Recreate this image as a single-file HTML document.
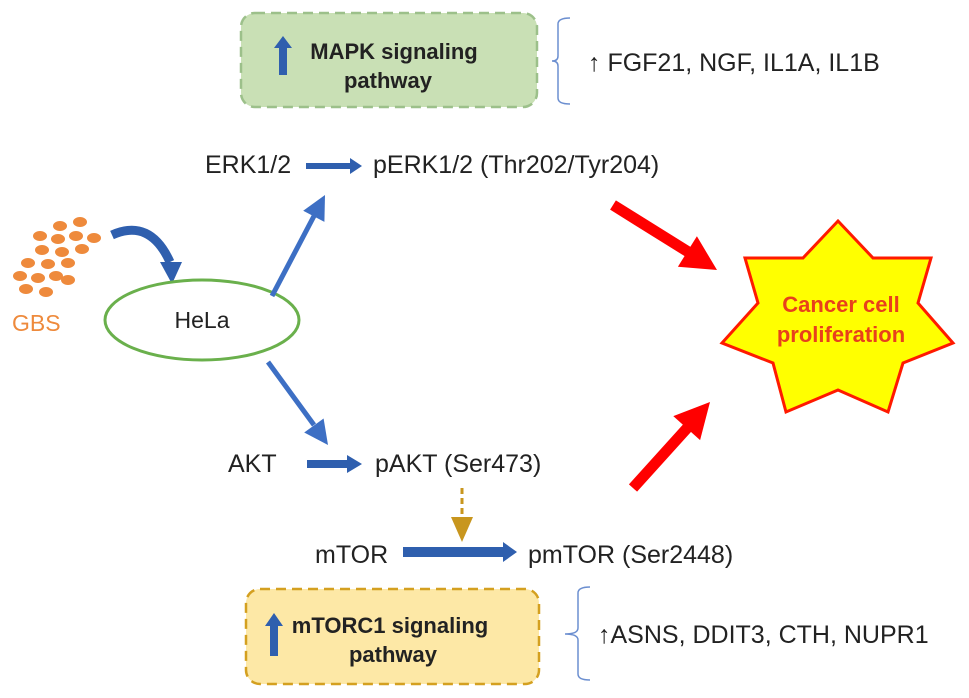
<!DOCTYPE html>
<html><head><meta charset="utf-8"><style>
html,body{margin:0;padding:0;background:#fff;}
svg{display:block;}
text{font-family:"Liberation Sans",sans-serif;}
</style></head><body>
<svg width="969" height="698" viewBox="0 0 969 698" xmlns="http://www.w3.org/2000/svg">
<!-- MAPK box -->
<rect x="241" y="13" width="296" height="94" rx="14" fill="#c9e0b5" stroke="#9cc08a" stroke-width="2.5" stroke-dasharray="10,6"/>
<path d="M279,75 L279,48 L274,48 L283,36 L292,48 L287,48 L287,75 z" fill="#2f5fae"/>
<text x="394" y="59" text-anchor="middle" font-size="22" font-weight="bold" fill="#222">MAPK signaling</text>
<text x="388" y="88" text-anchor="middle" font-size="22" font-weight="bold" fill="#222">pathway</text>
<path d="M570,18 Q558,18 558,24 L558,56 Q558,61 552,61 Q558,61 558,66 L558,98 Q558,104 570,104" fill="none" stroke="#6c8fd0" stroke-width="1.5"/>
<text x="588" y="71" font-size="25" fill="#222">↑ FGF21, NGF, IL1A, IL1B</text>
<!-- ERK -->
<text x="205" y="173" font-size="25" fill="#222">ERK1/2</text>
<path d="M306,163 L350,163 L350,158 L362,166 L350,174 L350,169 L306,169 z" fill="#2f5fae"/>
<text x="373" y="173" font-size="25" fill="#222">pERK1/2 (Thr202/Tyr204)</text>
<!-- GBS dots -->
<g fill="#ee8a3c">
<ellipse cx="60" cy="226" rx="7" ry="5"/><ellipse cx="80" cy="222" rx="7" ry="5"/>
<ellipse cx="40" cy="236" rx="7" ry="5"/><ellipse cx="58" cy="239" rx="7" ry="5"/><ellipse cx="76" cy="236" rx="7" ry="5"/><ellipse cx="94" cy="238" rx="7" ry="5"/>
<ellipse cx="42" cy="250" rx="7" ry="5"/><ellipse cx="62" cy="252" rx="7" ry="5"/><ellipse cx="82" cy="249" rx="7" ry="5"/>
<ellipse cx="28" cy="263" rx="7" ry="5"/><ellipse cx="48" cy="264" rx="7" ry="5"/><ellipse cx="68" cy="263" rx="7" ry="5"/>
<ellipse cx="20" cy="276" rx="7" ry="5"/><ellipse cx="38" cy="278" rx="7" ry="5"/><ellipse cx="56" cy="276" rx="7" ry="5"/><ellipse cx="68" cy="280" rx="7" ry="5"/>
<ellipse cx="26" cy="289" rx="7" ry="5"/><ellipse cx="46" cy="292" rx="7" ry="5"/>
</g>
<text x="12" y="331" font-size="23" fill="#ee8a3c">GBS</text>
<!-- curved arrow -->
<path d="M112,235 Q150,218 170,262" fill="none" stroke="#2f5fae" stroke-width="9"/>
<path d="M160,262 L182,262 L172,284 z" fill="#2f5fae"/>
<!-- HeLa -->
<ellipse cx="202" cy="320" rx="97" ry="40" fill="#fff" stroke="#6ab04c" stroke-width="3"/>
<text x="202" y="328" text-anchor="middle" font-size="23" fill="#222">HeLa</text>
<!-- blue diag arrows -->
<line x1="272" y1="296" x2="314" y2="216" stroke="#3d6fc4" stroke-width="5"/>
<polygon points="325,195 324.4,221.9 303.2,210.7" fill="#3d6fc4"/>
<line x1="268" y1="362" x2="314" y2="425" stroke="#3d6fc4" stroke-width="5"/>
<polygon points="328,445 304.2,432.5 323.6,418.5" fill="#3d6fc4"/>
<!-- AKT -->
<text x="228" y="472" font-size="25" fill="#222">AKT</text>
<path d="M307,460 L347,460 L347,455 L362,464 L347,473 L347,468 L307,468 z" fill="#2f5fae"/>
<text x="375" y="472" font-size="25" fill="#222">pAKT (Ser473)</text>
<!-- gold dashed -->
<line x1="462" y1="488" x2="462" y2="520" stroke="#c8961e" stroke-width="3" stroke-dasharray="6,4"/>
<path d="M451,517 L473,517 L462,542 z" fill="#c8961e"/>
<!-- mTOR -->
<text x="315" y="563" font-size="25" fill="#222">mTOR</text>
<path d="M403,547 L503,547 L503,542 L517,552 L503,562 L503,557 L403,557 z" fill="#2f5fae"/>
<text x="528" y="563" font-size="25" fill="#222">pmTOR (Ser2448)</text>
<!-- mTORC1 box -->
<rect x="246" y="589" width="293" height="95" rx="14" fill="#fde8a6" stroke="#d4a020" stroke-width="2.5" stroke-dasharray="10,6"/>
<path d="M270,656 L270,626 L265,626 L274,613 L283,626 L278,626 L278,656 z" fill="#2f5fae"/>
<text x="390" y="633" text-anchor="middle" font-size="22" font-weight="bold" fill="#222">mTORC1 signaling</text>
<text x="393" y="662" text-anchor="middle" font-size="22" font-weight="bold" fill="#222">pathway</text>
<path d="M590,587 Q578,587 578,593 L578,628 Q578,634 565,634 Q578,634 578,640 L578,674 Q578,680 590,680" fill="none" stroke="#6c8fd0" stroke-width="1.5"/>
<text x="598" y="643" font-size="25" fill="#222">↑ASNS, DDIT3, CTH, NUPR1</text>
<!-- red arrows -->
<line x1="613" y1="205" x2="690" y2="253" stroke="#ff0000" stroke-width="11"/>
<polygon points="717,270 677.9,266.7 696.9,236.3" fill="#ff0000"/>
<line x1="633" y1="488" x2="689" y2="426" stroke="#ff0000" stroke-width="11"/>
<polygon points="710,402 700.1,440.1 673.3,416.1" fill="#ff0000"/>
<!-- star -->
<polygon points="838,221 873,258 931,258 918,303 953,343 903,363 888,412 838,390 786,412 773,363 722,343 758,303 745,258 803,258" fill="#ffff00" stroke="#ff1a00" stroke-width="3" stroke-linejoin="miter"/>
<text x="841" y="312" text-anchor="middle" font-size="22" font-weight="bold" fill="#e8401c">Cancer cell</text>
<text x="841" y="342" text-anchor="middle" font-size="22" font-weight="bold" fill="#e8401c">proliferation</text>
</svg>
</body></html>
